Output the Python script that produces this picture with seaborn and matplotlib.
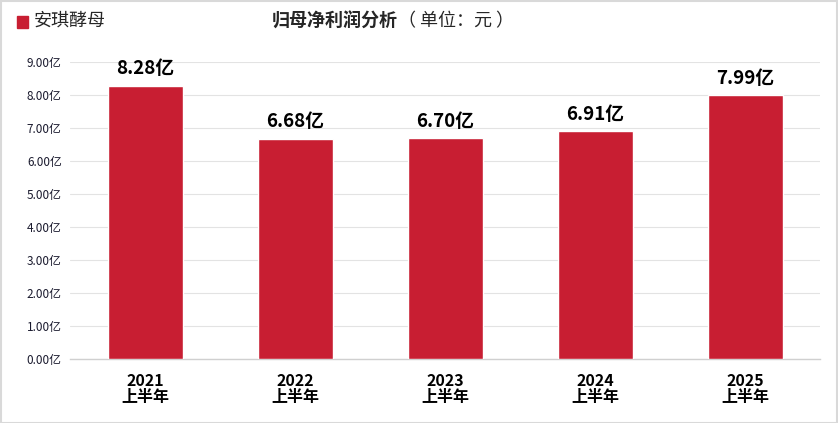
import matplotlib
matplotlib.use("Agg")
import matplotlib.pyplot as plt
import seaborn as sns
import pandas as pd

# 数据
periods = ["2021\n上半年", "2022\n上半年", "2023\n上半年", "2024\n上半年", "2025\n上半年"]
profit = [8.28, 6.68, 6.70, 6.91, 7.99]
series_name = "安琪酵母"
yticks = [0, 1, 2, 3, 4, 5, 6, 7, 8, 9]

bar_color = "#C81E32"

sns.set_theme(style="white")
plt.rcParams["font.family"] = ["Noto Sans CJK SC", "DejaVu Sans"]

df = pd.DataFrame({"period": periods, "profit": profit})

fig = plt.figure(figsize=(8.38, 4.23), dpi=100)
ax = fig.add_axes([70 / 838, 1 - 359 / 423, 750 / 838, 297 / 423])

sns.barplot(data=df, x="period", y="profit", color=bar_color, width=0.5,
            saturation=1, ax=ax, zorder=3)

ax.set_ylim(0, 9)
ax.set_xlim(-0.5, len(periods) - 0.5)
ax.set_yticks(yticks)
ax.set_yticklabels([f"{v:.2f}亿" for v in yticks], fontsize=8.5, color="#1a1a2e")
ax.yaxis.grid(True, color="#e3e3e3", linewidth=0.8, zorder=0)
ax.set_xlabel("")
ax.set_ylabel("")
ax.tick_params(axis="y", length=0, pad=6)
ax.tick_params(axis="x", length=0, pad=10)
for lbl in ax.get_xticklabels():
    lbl.set_fontweight("bold")
    lbl.set_fontsize(11.5)
    lbl.set_linespacing(1.0)
    lbl.set_color("black")

for side in ["top", "right", "left"]:
    ax.spines[side].set_visible(False)
ax.spines["bottom"].set_color("#d0d0d0")
ax.spines["bottom"].set_linewidth(1.0)

for i, v in enumerate(profit):
    ax.text(i, v + 0.22, f"{v:.2f}亿", ha="center", va="bottom",
            fontsize=13.5, fontweight="bold", color="black")

# 图例
fig.patches.append(plt.Rectangle((17 / 838, 1 - 28 / 423), 11 / 838, 12 / 423,
                                 transform=fig.transFigure, color=bar_color))
fig.text(34 / 838, 1 - 21 / 423, series_name, fontsize=13, va="center", ha="left")

# 标题
fig.text(398 / 838, 1 - 21 / 423, "归母净利润分析", fontsize=13, fontweight="bold",
         va="center", ha="right")
fig.text(398 / 838, 1 - 21 / 423, "（ 单位：元 ）", fontsize=13, va="center", ha="left")

# 边框
fig.patches.append(plt.Rectangle((0.5 / 838, 0.5 / 423), 1 - 1.5 / 838, 1 - 1.5 / 423,
                                 transform=fig.transFigure, fill=False,
                                 edgecolor="#d9d9d9", linewidth=1.5))

fig.savefig("out.png", dpi=100)
